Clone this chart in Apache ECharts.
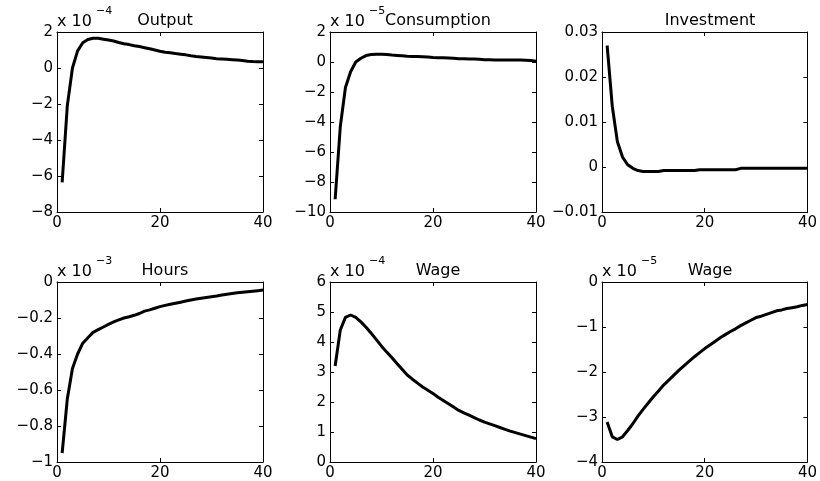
<!DOCTYPE html>
<html>
<head>
<meta charset="utf-8">
<script src="https://cdn.jsdelivr.net/npm/echarts@6/dist/echarts.min.js"></script>
<style>
  html, body { margin: 0; padding: 0; background: #fff; }
  #main { width: 820px; height: 481px; }
</style>
</head>
<body>
<div id="main"></div>
<script>
  // impulse responses, periods 1..40 (values in the units shown on each axis)
  var periods = [1,2,3,4,5,6,7,8,9,10,11,12,13,14,15,16,17,18,19,20,21,22,23,24,25,26,27,28,29,30,31,32,33,34,35,36,37,38,39,40];

  var output = [-6.35,-2.1,0.0,0.95,1.4,1.58,1.65,1.65,1.6,1.55,1.5,1.42,1.35,1.3,1.24,1.19,1.13,1.07,1.0,0.93,
    0.88,0.85,0.8,0.77,0.73,0.68,0.64,0.61,0.58,0.55,0.52,0.5,0.48,0.46,0.44,0.42,0.38,0.36,0.35,0.35];
  var consumption = [-9.15,-4.3,-1.7,-0.65,0.0,0.25,0.43,0.5,0.52,0.52,0.5,0.46,0.44,0.42,0.38,0.37,0.36,0.35,0.33,0.3,
    0.29,0.28,0.27,0.25,0.22,0.21,0.2,0.2,0.18,0.15,0.15,0.14,0.14,0.14,0.14,0.13,0.13,0.12,0.1,0.05];
  var investment = [0.027,0.0135,0.0056,0.0022,0.0005,-0.0003,-0.0008,-0.001,-0.001,-0.001,-0.001,-0.0008,-0.0008,-0.0008,-0.0008,-0.0008,-0.0008,-0.0008,-0.0006,-0.0006,
    -0.0006,-0.0006,-0.0006,-0.0006,-0.0006,-0.0006,-0.0003,-0.0003,-0.0003,-0.0003,-0.0003,-0.0003,-0.0003,-0.0003,-0.0003,-0.0003,-0.0003,-0.0003,-0.0003,-0.0003];
  var hours = [-0.95,-0.65,-0.48,-0.4,-0.34,-0.31,-0.28,-0.265,-0.25,-0.235,-0.222,-0.21,-0.2,-0.193,-0.185,-0.175,-0.162,-0.155,-0.146,-0.137,
    -0.13,-0.124,-0.118,-0.112,-0.106,-0.1,-0.095,-0.09,-0.086,-0.082,-0.078,-0.072,-0.068,-0.064,-0.06,-0.057,-0.054,-0.051,-0.048,-0.045];
  var wage = [3.2,4.4,4.82,4.9,4.82,4.67,4.49,4.29,4.08,3.86,3.67,3.48,3.28,3.09,2.9,2.76,2.63,2.5,2.39,2.28,
    2.16,2.05,1.94,1.83,1.72,1.64,1.56,1.48,1.4,1.33,1.27,1.21,1.15,1.09,1.03,0.98,0.93,0.88,0.83,0.78];
  var wage2 = [-3.11,-3.44,-3.5,-3.44,-3.3,-3.15,-2.98,-2.83,-2.69,-2.55,-2.42,-2.29,-2.18,-2.07,-1.96,-1.86,-1.76,-1.66,-1.57,-1.48,
    -1.4,-1.32,-1.24,-1.17,-1.1,-1.04,-0.97,-0.91,-0.85,-0.79,-0.76,-0.72,-0.68,-0.64,-0.62,-0.59,-0.57,-0.55,-0.52,-0.5];

  var titles = ['Output', 'Consumption', 'Investment', 'Hours', 'Wage', 'Wage'];
  var exponents = ['\u22124', '\u22125', null, '\u22123', '\u22124', '\u22125'];
  var series_data = [output, consumption, investment, hours, wage, wage2];
  var yMin = [-8, -10, -0.01, -1, 0, -4];
  var yMax = [2, 2, 0.03, 0, 6, 0];
  var yStep = [2, 2, 0.01, 0.2, 1, 1];
  var xTicks = { min: 0, max: 40, interval: 20 };

  var chart = echarts.init(document.getElementById('main'));
  var font = 'DejaVu Sans';
  var lefts = [57, 330, 602];
  var tops = [32, 282];
  var W = 206, H = 180;

  function fmt(v) {
    return String(+(+v).toFixed(4)).replace('-', '\u2212');
  }

  var grids = [], xAxes = [], yAxes = [], series = [], graphics = [], titleList = [];

  titles.forEach(function (t, i) {
    var col = i % 3, row = Math.floor(i / 3);
    var L = lefts[col], T = tops[row];
    grids.push({ left: L, top: T, width: W, height: H });

    var tick = { show: true, inside: true, length: 4, lineStyle: { color: '#000' } };
    var line = { show: true, onZero: false, lineStyle: { color: '#000', width: 1 } };

    xAxes.push({
      gridIndex: i, type: 'value', min: xTicks.min, max: xTicks.max, interval: xTicks.interval,
      position: 'bottom', axisLine: line, axisTick: tick, splitLine: { show: false },
      axisLabel: { color: '#000', fontFamily: font, fontSize: 15, margin: 4, formatter: fmt }
    });
    xAxes.push({
      gridIndex: i, type: 'value', min: xTicks.min, max: xTicks.max, interval: xTicks.interval,
      position: 'top', axisLine: line, axisTick: tick, splitLine: { show: false },
      axisLabel: { show: false }
    });
    yAxes.push({
      gridIndex: i, type: 'value', min: yMin[i], max: yMax[i], interval: yStep[i],
      position: 'left', axisLine: line, axisTick: tick, splitLine: { show: false },
      axisLabel: { color: '#000', fontFamily: font, fontSize: 15, margin: 4, formatter: fmt }
    });
    yAxes.push({
      gridIndex: i, type: 'value', min: yMin[i], max: yMax[i], interval: yStep[i],
      position: 'right', axisLine: line, axisTick: tick, splitLine: { show: false },
      axisLabel: { show: false }
    });

    series.push({
      type: 'line', xAxisIndex: 2 * i, yAxisIndex: 2 * i,
      data: periods.map(function (p, k) { return [p, series_data[i][k]]; }),
      showSymbol: false, symbol: 'none',
      lineStyle: { color: '#000', width: 3 },
      animation: false
    });

    titleList.push({
      text: t, left: L + W / 2, top: T - 24, textAlign: 'center',
      textStyle: { color: '#000', fontFamily: font, fontSize: 16, fontWeight: 'normal' }
    });

    if (exponents[i]) {
      graphics.push({
        type: 'text', left: L, top: T - 18,
        style: { text: 'x 10', fill: '#000', font: '16px "' + font + '"' }
      });
      graphics.push({
        type: 'text', left: L + 39, top: T - 26,
        style: { text: exponents[i], fill: '#000', font: '11px "' + font + '"' }
      });
    }
  });

  chart.setOption({
    backgroundColor: '#fff',
    animation: false,
    title: titleList,
    grid: grids,
    xAxis: xAxes,
    yAxis: yAxes,
    series: series,
    graphic: graphics
  });
</script>
</body>
</html>
